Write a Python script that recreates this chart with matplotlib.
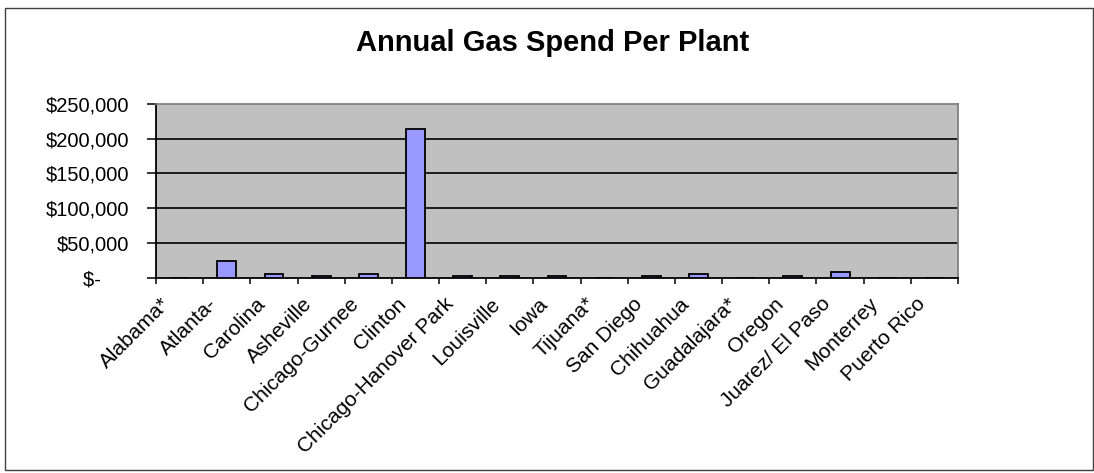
# Annual gas spend per plant - bar chart (Excel style)

import matplotlib as mpl
import matplotlib.pyplot as plt
import matplotlib.transforms as mtransforms
from matplotlib.patches import Rectangle
from matplotlib.ticker import FuncFormatter
import numpy as np

######################  DATA ######################

plants = ['Alabama*', 'Atlanta-', 'Carolina', 'Asheville', 'Chicago-Gurnee',
          'Clinton', 'Chicago-Hanover Park', 'Louisville', 'Iowa', 'Tijuana*',
          'San Diego', 'Chihuahua', 'Guadalajara*', 'Oregon', 'Juarez/ El Paso',
          'Monterrey', 'Puerto Rico']

gas_spend = [0, 23500, 5000, 1500, 4500,
             214000, 1500, 1500, 1500, 0,
             1500, 5000, 0, 1500, 7500,
             0, 0]

yticks = [0, 50000, 100000, 150000, 200000, 250000]

######################  PLOT ######################

plt.rcParams['font.family'] = ['Liberation Sans', 'DejaVu Sans']

fig = plt.figure(figsize=(10.94, 4.73), dpi=100)
ax = fig.add_axes([0.1426, 0.4133, 0.8757 - 0.1426, 0.780 - 0.4133])

x = np.arange(len(plants))
ax.bar(x, gas_spend, width=0.4, color='#9999FF', edgecolor='black', linewidth=1.3, zorder=3)

ax.set_facecolor('#C0C0C0')
ax.set_xlim(-0.5, len(plants) - 0.5)
ax.set_ylim(0, 250000)

# y axis - accounting style labels
def money(v, pos):
    if v == 0:
        return '$-     '
    return '${:,.0f}'.format(v)

ax.set_yticks(yticks)
ax.yaxis.set_major_formatter(FuncFormatter(money))
ax.tick_params(axis='y', direction='out', length=6.5, width=1.1, pad=13, labelsize=14.5)
for v in yticks[1:-1]:
    ax.axhline(v, color='black', linewidth=1.2, zorder=1)

# x axis - ticks on category boundaries, labels on centres
ax.set_xticks(np.arange(-0.5, len(plants)), minor=True)
ax.set_xticks(x)
ax.set_xticklabels(plants, rotation=45, ha='right', va='top', rotation_mode='anchor', fontsize=15)
ax.tick_params(axis='x', which='major', length=0, pad=12)
ax.tick_params(axis='x', which='minor', direction='out', length=4.3, width=1.1)
shift = mtransforms.ScaledTranslation(-19 / 100, 0, fig.dpi_scale_trans)
for lab in ax.get_xticklabels():
    lab.set_transform(lab.get_transform() + shift)

ax.spines['left'].set_color('black')
ax.spines['bottom'].set_color('black')
ax.spines['top'].set_color('#808080')
ax.spines['right'].set_color('#808080')
for s in ax.spines.values():
    s.set_linewidth(1.3)

fig.text(0.5055, 0.909, 'Annual Gas Spend Per Plant', ha='center', va='center',
         fontsize=21, fontweight='bold')

# chart border
fig.patches.append(Rectangle((5 / 1094, 1 - 470 / 473), 1088 / 1094, 462 / 473,
                             transform=fig.transFigure, fill=False,
                             edgecolor='#404040', linewidth=1))

fig.savefig('out.png', dpi=100)
